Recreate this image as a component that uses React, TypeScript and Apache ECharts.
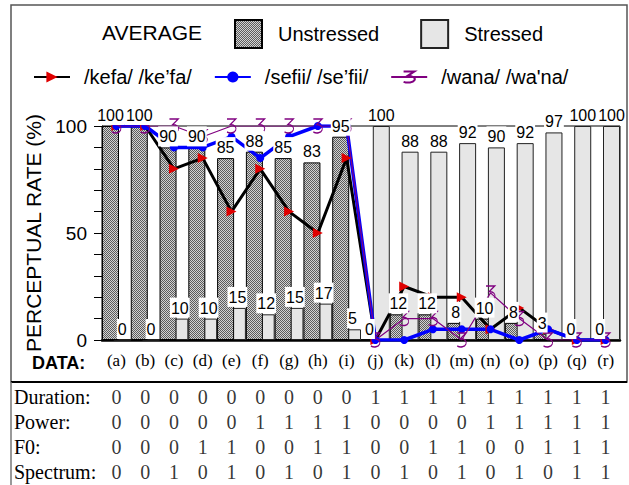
import React, { useEffect, useRef } from 'react';
import * as echarts from 'echarts';

// Stimulus conditions (a)–(r)
const categories = ['(a)', '(b)', '(c)', '(d)', '(e)', '(f)', '(g)', '(h)', '(i)', '(j)', '(k)', '(l)', '(m)', '(n)', '(o)', '(p)', '(q)', '(r)'];

// Average perceptual rates (%)
const unstressed = [100, 100, 90, 90, 85, 88, 85, 83, 95, 0, 12, 12, 8, 10, 8, 3, 0, 0];
const stressed = [0, 0, 10, 10, 15, 12, 15, 17, 5, 100, 88, 88, 92, 90, 92, 97, 100, 100];

// Per-word perceptual rates (%)
const kefa = [100, 100, 80, 85, 60, 80, 60, 50, 85, 0, 25, 20, 20, 5, 15, 5, 0, 0];
const sefii = [100, 100, 90, 90, 95, 85, 95, 100, 100, 0, 0, 5, 5, 5, 0, 5, 0, 0];
const wana = [100, 100, 100, 95, 100, 100, 100, 100, 100, 0, 10, 10, 0, 22, 10, 0, 0, 0];

const yTickLabels = [0, 50, 100];

// Acoustic feature settings per condition
const featureNames = ['Duration:', 'Power:', 'F0:', 'Spectrum:'];
const duration = [0, 0, 0, 0, 0, 0, 0, 0, 0, 1, 1, 1, 1, 1, 1, 1, 1, 1];
const power = [0, 0, 0, 0, 0, 1, 1, 1, 1, 0, 0, 0, 0, 1, 1, 1, 1, 1];
const f0 = [0, 0, 0, 1, 1, 0, 0, 1, 1, 0, 0, 1, 1, 0, 0, 1, 1, 1];
const spectrum = [0, 0, 1, 0, 1, 0, 1, 0, 1, 0, 1, 0, 1, 0, 1, 0, 1, 1];

const KEFA = '/kefa/ /ke\u2019fa/';
const SEFII = '/sefii/ /se\u2019fii/';
const WANA = "/wana/ /wa'na/";

const sans = "'Liberation Sans', Arial, sans-serif";
const serif = "'Liberation Serif', 'Times New Roman', serif";

// "ʒ"-like marker used for /wana/
const ezhPath = 'path://M1,1 L9,1 L4,7 C8,7 10,10 9,13 C8,16 4,17 1,15';

export default function App() {
  const ref = useRef<HTMLDivElement>(null);

  useEffect(() => {
    document.body.style.margin = '0';
    const el = ref.current as HTMLDivElement;
    const chart = echarts.init(el, undefined, { renderer: 'svg' });

    // fine checkered hatch for the unstressed bars
    const tile = document.createElement('canvas');
    tile.width = 2;
    tile.height = 2;
    const ctx = tile.getContext('2d') as CanvasRenderingContext2D;
    ctx.fillStyle = '#d2d2d2';
    ctx.fillRect(0, 0, 2, 2);
    ctx.fillStyle = '#5c5c5c';
    ctx.fillRect(0, 0, 1, 1);
    ctx.fillRect(1, 1, 1, 1);
    const hatch: any = { image: tile, repeat: 'repeat', imageWidth: 2, imageHeight: 2 };
    const light = '#e6e6e6';

    // the taller of the two bars in each pair is drawn in front
    const hatchFront = unstressed.map((v, i) => (v >= stressed[i] ? v : '-'));
    const hatchBack = unstressed.map((v, i) => (v >= stressed[i] ? '-' : v));
    const lightFront = stressed.map((v, i) => (v > unstressed[i] ? v : '-'));
    const lightBack = stressed.map((v, i) => (v > unstressed[i] ? '-' : v));

    const barCommon = {
      type: 'bar',
      barWidth: 17,
      barGap: '-30.6%',
      xAxisIndex: 0,
      yAxisIndex: 0,
      z: 2,
      silent: true,
    };
    const hatchStyle = { color: hatch, borderColor: '#000', borderWidth: 1 };
    const lightStyle = { color: light, borderColor: '#222', borderWidth: 1 };

    const barLabel = {
      show: true,
      position: 'top',
      distance: 1,
      color: '#000',
      fontFamily: sans,
      fontSize: 16,
      lineHeight: 17,
      backgroundColor: '#fff',
      padding: [2, 1, 1, 1],
    };

    const featureRows = [duration, power, f0, spectrum];
    const tableData = featureRows.flatMap((row, r) => row.map((v, c) => [c, r, v]));

    const option: any = {
      animation: false,
      backgroundColor: '#fff',
      title: {
        text: 'AVERAGE',
        left: 102,
        top: 22,
        padding: 0,
        textStyle: { fontFamily: sans, fontSize: 21, fontWeight: 'normal', color: '#000' },
      },
      legend: [
        {
          data: ['Unstressed', 'Stressed'],
          left: 234,
          top: 19,
          padding: 0,
          itemWidth: 27,
          itemHeight: 28,
          itemGap: 41,
          icon: 'rect',
          selectedMode: false,
          textStyle: { fontFamily: sans, fontSize: 20, color: '#000', padding: [0, 0, 0, 11] },
        },
        {
          data: [KEFA, SEFII, WANA],
          left: 33,
          top: 67,
          padding: 0,
          itemWidth: 36,
          itemHeight: 14,
          itemGap: 22,
          selectedMode: false,
          textStyle: { fontFamily: sans, fontSize: 20, color: '#000', padding: [0, 0, 0, 9] },
        },
      ],
      grid: [
        { left: 102, right: 9, top: 126, bottom: 145, show: true, borderColor: '#000', borderWidth: 1, backgroundColor: 'transparent' },
        { left: 102, right: 9, top: 384, height: 100 },
      ],
      xAxis: [
        {
          type: 'category',
          gridIndex: 0,
          data: categories,
          axisLine: { lineStyle: { color: '#000', width: 2.5 } },
          axisTick: { show: false },
          axisLabel: { interval: 0, margin: 12, fontFamily: serif, fontSize: 17, color: '#000' },
        },
        {
          type: 'category',
          gridIndex: 1,
          data: categories,
          show: false,
        },
      ],
      yAxis: [
        {
          type: 'value',
          gridIndex: 0,
          min: 0,
          max: 100,
          interval: 10,
          name: 'PERCEPTUAL RATE (%)',
          nameLocation: 'middle',
          nameGap: 52,
          nameTextStyle: { fontFamily: sans, fontSize: 21, color: '#000' },
          axisLine: { show: true, lineStyle: { color: '#000', width: 1 } },
          axisTick: { show: true, length: 8, lineStyle: { color: '#000' } },
          splitLine: { show: false },
          axisLabel: {
            margin: 15,
            fontFamily: sans,
            fontSize: 19,
            color: '#000',
            formatter: (v: number) => (yTickLabels.includes(v) ? String(v) : ''),
          },
        },
        {
          type: 'category',
          gridIndex: 1,
          data: featureNames,
          inverse: true,
          axisLine: { show: false },
          axisTick: { show: false },
          axisLabel: { interval: 0, align: 'left', margin: 88, fontFamily: serif, fontSize: 20, color: '#000' },
        },
      ],
      graphic: [
        {
          type: 'rect',
          shape: { x: 11, y: 5, width: 616, height: 377 },
          style: { fill: 'none', stroke: '#555', lineWidth: 1.5 },
          silent: true,
        },
        {
          type: 'line',
          shape: { x1: 11, y1: 382, x2: 627, y2: 382 },
          style: { stroke: '#000', lineWidth: 2 },
          silent: true,
        },
        {
          type: 'line',
          shape: { x1: 11, y1: 382, x2: 11, y2: 485 },
          style: { stroke: '#777', lineWidth: 1.5 },
          silent: true,
        },
        {
          type: 'text',
          left: 32,
          top: 354,
          style: { text: 'DATA:', font: `bold 18px ${sans}`, fill: '#000' },
          silent: true,
        },
      ],
      series: [
        { ...barCommon, name: 'Unstressed', stack: 'u', data: hatchBack, itemStyle: hatchStyle },
        { ...barCommon, name: 'Stressed', stack: 's', data: lightBack, itemStyle: lightStyle },
        { ...barCommon, name: 'Unstressed', stack: 'u', data: hatchFront, itemStyle: hatchStyle },
        { ...barCommon, name: 'Stressed', stack: 's', data: lightFront, itemStyle: lightStyle },
        {
          name: KEFA,
          type: 'line',
          data: kefa,
          z: 3,
          symbol: 'triangle',
          symbolSize: 10,
          symbolRotate: -90,
          showAllSymbol: true,
          lineStyle: { color: '#000', width: 3 },
          itemStyle: { color: '#e00000' },
          silent: true,
        },
        {
          name: SEFII,
          type: 'line',
          data: sefii,
          z: 3,
          symbol: 'circle',
          symbolSize: 8,
          showAllSymbol: true,
          lineStyle: { color: '#0000ff', width: 3.5 },
          itemStyle: { color: '#0000ff' },
          silent: true,
        },
        {
          name: WANA,
          type: 'line',
          data: wana,
          z: 3,
          symbol: ezhPath,
          symbolSize: [9, 14],
          showAllSymbol: true,
          lineStyle: { color: '#800080', width: 1.2 },
          itemStyle: { color: 'rgba(0,0,0,0)', borderColor: '#800080', borderWidth: 1.2 },
          silent: true,
        },
        // value labels drawn above the lines; each overlays its own bar exactly
        {
          ...barCommon,
          name: 'Unstressed',
          stack: 'u',
          stackStrategy: 'negative',
          data: unstressed,
          z: 4,
          itemStyle: { color: 'rgba(0,0,0,0)' },
          label: barLabel,
        },
        {
          ...barCommon,
          name: 'Stressed',
          stack: 's',
          stackStrategy: 'negative',
          data: stressed,
          z: 4,
          itemStyle: { color: 'rgba(0,0,0,0)' },
          label: barLabel,
        },
        {
          type: 'scatter',
          xAxisIndex: 1,
          yAxisIndex: 1,
          data: tableData,
          symbolSize: 1,
          itemStyle: { color: 'rgba(0,0,0,0)' },
          silent: true,
          label: {
            show: true,
            position: 'inside',
            formatter: (p: any) => String(p.value[2]),
            fontFamily: serif,
            fontSize: 20,
            color: '#000',
          },
        },
      ],
    };

    chart.setOption(option);
    return () => chart.dispose();
  }, []);

  return <div ref={ref} style={{ width: 629, height: 485 }} />;
}
